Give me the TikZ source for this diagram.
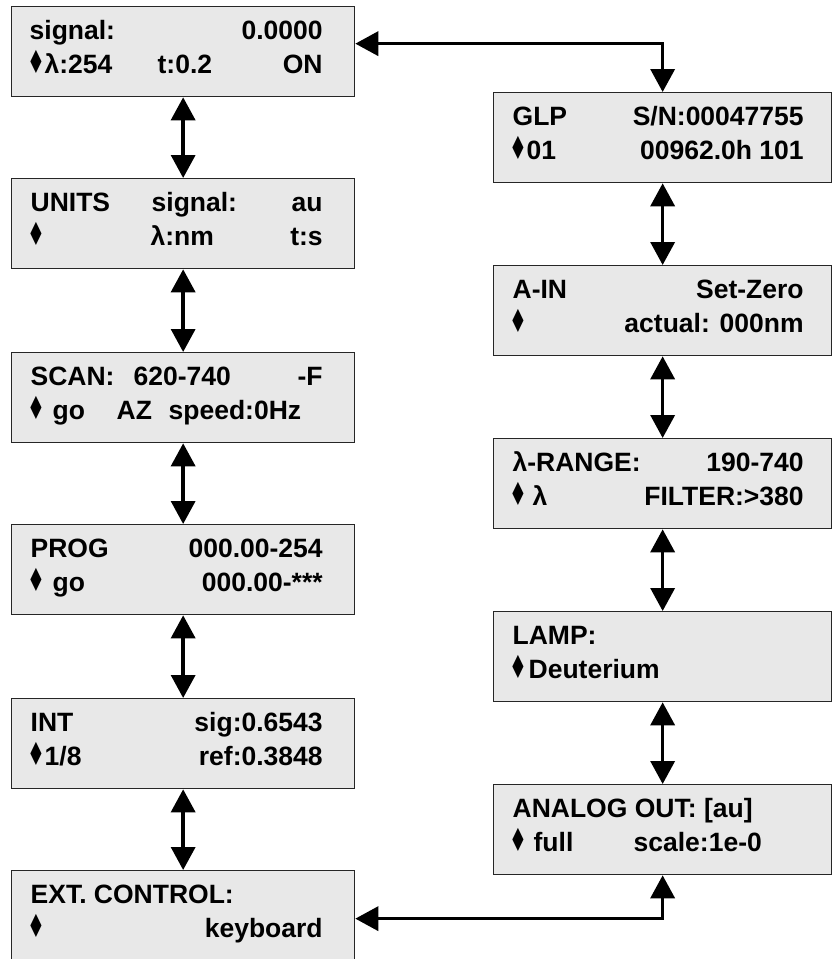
\documentclass[tikz,border=0pt]{standalone}
\usepackage{graphicx}
\usepackage{fontspec}
\setmainfont{Liberation Sans}
\newfontfamily\symfont{DejaVu Sans}
\usetikzlibrary{arrows.meta}

\definecolor{lcdfill}{HTML}{E8E8E8}
\newlength{\lcdw}
\newlength{\lcdr}
% item at a fixed distance from the left edge of the display
\newcommand{\lft}[2]{\rlap{\hspace*{#1pt}#2}}
\newcommand{\dia}{\lft{16}{\symfont\scalebox{0.75}[1.2]{♦}}}
% one line of the display: left items, right aligned item
\newcommand{\lcdrow}[3]{\hbox to \lcdw{\vrule height #1pt depth 0pt width 0pt\smash{#2}\hfill\smash{#3}\hspace*{\lcdr}}}
\newcommand{\lcd}[4]{\vbox to 90pt{\offinterlineskip\lcdrow{33}{#1}{#2}\lcdrow{34}{#3}{#4}\vfill}}

\tikzset{
  lcd/.style={draw=black!85, fill=lcdfill, line width=1.3pt, inner sep=0pt,
    anchor=north west, font=\fontsize{26.5pt}{26.5pt}\selectfont\bfseries},
  lcdleft/.style={lcd, execute at begin node={\setlength{\lcdw}{343pt}\setlength{\lcdr}{32pt}}},
  lcdright/.style={lcd, execute at begin node={\setlength{\lcdw}{338pt}\setlength{\lcdr}{28pt}}},
  conn/.style={line width=3.5pt,
    {Triangle[width=24pt,length=23pt]}-{Triangle[width=24pt,length=23pt]}}
}

\begin{document}
\begin{tikzpicture}[x=1pt,y=-1pt]
\useasboundingbox (0,0) rectangle (832,959);
% menu screens of the detector display
\node[lcdleft] (signal) at (11,6) {\lcd{\lft{18}{signal:}}{0.0000}{\dia\lft{33}{λ:254}\lft{146}{t:0.2}}{ON}};
\node[lcdleft] (units) at (11,178) {\lcd{\lft{19}{UNITS}\lft{140}{signal:}}{au}{\dia\lft{139}{λ:nm}}{t:s}};
\node[lcdleft] (scan) at (11,352) {\lcd{\lft{19}{SCAN:}\lft{122}{620-740}}{-F}{\dia\lft{41}{go}\lft{105}{AZ}\lft{157}{speed:0Hz}}{}};
\node[lcdleft] (prog) at (11,524) {\lcd{\lft{19}{PROG}}{000.00-254}{\dia\lft{41}{go}}{000.00-***}};
\node[lcdleft] (int) at (11,698) {\lcd{\lft{19}{INT}}{sig:0.6543}{\dia\lft{33}{1/8}}{ref:0.3848}};
\node[lcdleft] (ext) at (11,870) {\lcd{\lft{19}{EXT. CONTROL:}}{}{\dia}{keyboard}};

\node[lcdright] (glp) at (493,92) {\lcd{\lft{19}{GLP}}{S/N:00047755}{\dia\lft{33}{01}}{00962.0h 101}};
\node[lcdright] (ain) at (493,265) {\lcd{\lft{19}{A-IN}}{Set-Zero}{\dia}{actual: 000nm}};
\node[lcdright] (range) at (493,438) {\lcd{\lft{19}{λ-RANGE:}}{190-740}{\dia\lft{39}{λ}}{FILTER:>380}};
\node[lcdright] (lamp) at (493,611) {\lcd{\lft{19}{LAMP:}}{}{\dia\lft{35}{Deuterium}}{}};
\node[lcdright] (aout) at (493,784) {\lcd{\lft{19}{ANALOG OUT: [au]}}{}{\dia\lft{40}{full}\lft{140}{scale:1e-0}}{}};

\draw[conn] (signal.south) -- (units.north);
\draw[conn] (units.south) -- (scan.north);
\draw[conn] (scan.south) -- (prog.north);
\draw[conn] (prog.south) -- (int.north);
\draw[conn] (int.south) -- (ext.north);
\draw[conn] (glp.south) -- (ain.north);
\draw[conn] (ain.south) -- (range.north);
\draw[conn] (range.south) -- (lamp.north);
\draw[conn] (lamp.south) -- (aout.north);
\draw[conn] ([yshift=8pt]signal.east) -| (glp.north);
\draw[conn] ([yshift=-3pt]ext.east) -| (aout.south);
\end{tikzpicture}
\end{document}
